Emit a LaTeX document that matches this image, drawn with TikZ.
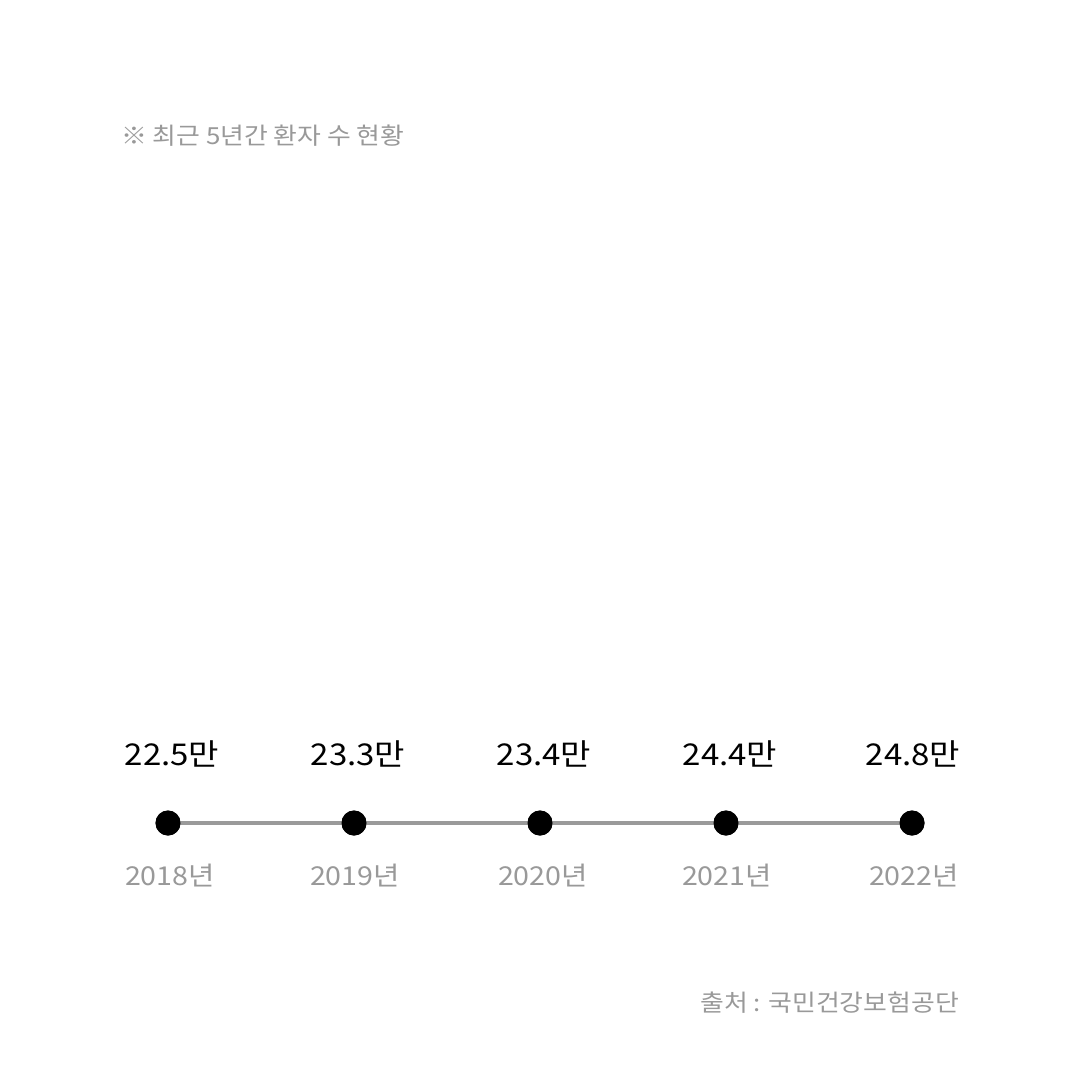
\documentclass[tikz,border=0pt]{standalone}
\usepackage{fontspec}
\setmainfont[FakeStretch=1.1]{Noto Sans CJK KR}
\definecolor{txtgray}{HTML}{999999}
\definecolor{linegray}{HTML}{9A9A9A}
\begin{document}
\begin{tikzpicture}[x=1pt,y=-1pt,
  dot/.style={circle,fill=black,minimum size=25pt,inner sep=0pt},
  val/.style={font=\fontsize{30}{34}\selectfont,text=black,inner sep=0pt,anchor=base},
  yr/.style={font=\fontsize{26}{30}\selectfont,text=txtgray,inner sep=0pt,anchor=base},
  note/.style={font=\fontsize{23.5}{28}\selectfont,text=txtgray,inner sep=0pt},
  conn/.style={draw=linegray,line width=4pt}]
\fill[white] (0,0) rectangle (1080,1080);
\useasboundingbox (0,0) rectangle (1080,1080);
\node[note,anchor=west] (title) at (121,136) {※ 최근 5년간 환자 수 현황};
\node[dot] (d1) at (168,823) {};
\node[dot] (d2) at (354,823) {};
\node[dot] (d3) at (540,823) {};
\node[dot] (d4) at (726,823) {};
\node[dot] (d5) at (912,823) {};
\draw[conn] (d1.center) -- (d2.center) -- (d3.center) -- (d4.center) -- (d5.center);
\foreach \n in {d1,d2,d3,d4,d5} \fill (\n) circle (12.5pt);
\node[val] (v1) at (172,765) {22.5만};
\node[val] (v2) at (358,765) {23.3만};
\node[val] (v3) at (544,765) {23.4만};
\node[val] (v4) at (730,765) {24.4만};
\node[val] (v5) at (913,765) {24.8만};
\node[yr] (y1) at (170,885) {2018년};
\node[yr] (y2) at (355,885) {2019년};
\node[yr] (y3) at (543,885) {2020년};
\node[yr] (y4) at (727,885) {2021년};
\node[yr] (y5) at (914,885) {2022년};
\node[note,anchor=east] (src) at (959,1003) {출처 : 국민건강보험공단};
\end{tikzpicture}
\end{document}
